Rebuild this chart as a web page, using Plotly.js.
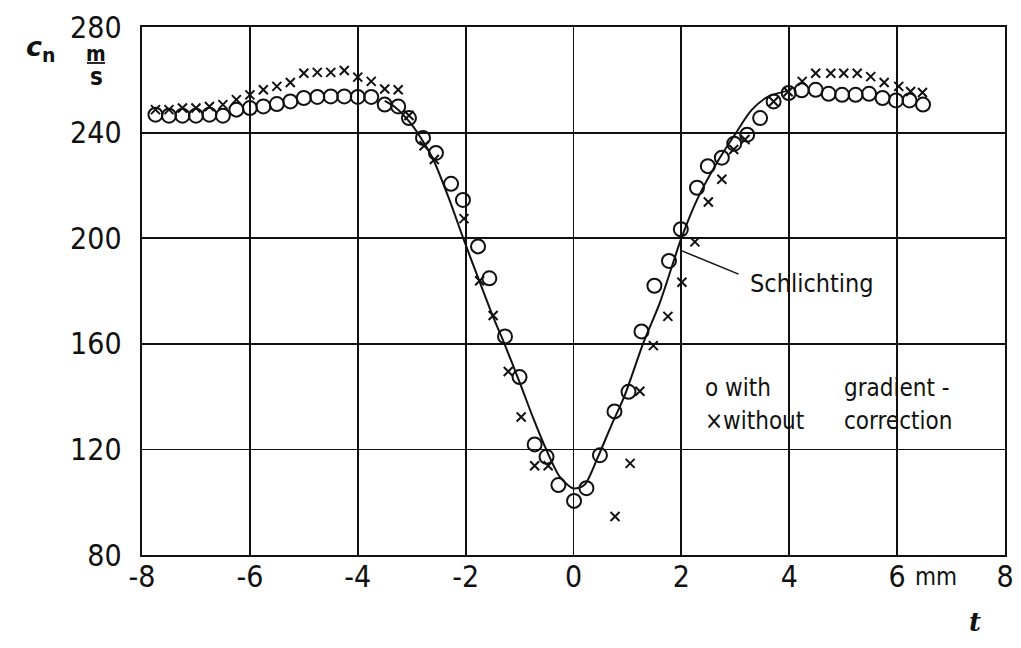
<!DOCTYPE html>
<html>
<head>
<meta charset="utf-8">
<script src="https://cdn.plot.ly/plotly-3.0.1.min.js"></script>
<style>html,body{margin:0;padding:0;background:#fff;}</style>
</head>
<body>
<div id="chart" style="width:1021px;height:648px;"></div>
<script>
// ---- data ----
const withX = [-7.75,-7.5,-7.25,-7.0,-6.75,-6.5,-6.25,-6.0,-5.75,-5.5,-5.25,-5.0,-4.75,-4.5,-4.25,-4.0,-3.75,-3.5,-3.25,-3.05,-2.79,-2.55,-2.27,-2.05,-1.77,-1.56,-1.27,-1.0,-0.72,-0.5,-0.28,0.01,0.24,0.49,0.76,1.02,1.26,1.5,1.77,1.99,2.29,2.49,2.75,2.98,3.22,3.46,3.71,3.99,4.23,4.49,4.73,4.98,5.23,5.48,5.73,5.98,6.23,6.48];
const withY = [246.8,246.4,246.4,246.4,246.8,246.4,248.7,249.3,249.9,250.8,251.8,253.1,253.5,253.7,253.7,253.5,253.5,250.6,249.9,245.5,238.0,232.3,220.6,214.5,196.9,184.8,162.8,147.4,121.9,117.2,106.5,100.5,105.3,117.8,134.4,141.8,164.7,182.0,191.4,203.4,219.1,227.3,230.5,235.8,239.2,245.5,251.8,255.0,256.0,256.2,254.7,254.3,254.3,254.7,253.1,252.2,252.2,250.6];

const withoutX = [-7.75,-7.5,-7.25,-7.0,-6.75,-6.5,-6.25,-6.0,-5.75,-5.5,-5.25,-5.0,-4.75,-4.5,-4.25,-4.0,-3.75,-3.5,-3.25,-3.05,-2.77,-2.58,-2.03,-1.74,-1.49,-1.21,-0.97,-0.72,-0.47,0.77,1.05,1.23,1.48,1.75,2.01,2.25,2.5,2.75,2.97,3.18,3.71,3.98,4.24,4.49,4.77,5.01,5.26,5.51,5.76,6.03,6.25,6.47];
const withoutY = [248.7,248.7,249.3,249.3,249.9,250.6,252.5,254.3,256.2,257.5,259.0,262.5,262.8,262.8,263.5,261.0,259.4,256.5,256.2,246.5,235.0,229.8,207.4,183.9,170.7,149.5,132.3,113.8,113.8,94.6,114.7,142.0,159.3,170.4,183.3,198.6,213.7,222.3,233.6,237.4,251.8,255.5,259.4,262.5,262.5,262.5,262.5,261.2,259.0,257.5,255.6,255.2];

const schlX = [-3.5,-3.3,-3.0,-2.8,-2.6,-2.3,-2.05,-1.75,-1.5,-1.28,-1.0,-0.75,-0.5,-0.25,0,0.2,0.45,0.7,0.95,1.3,1.6,2.0,2.3,2.7,3.0,3.3,3.6,4.0];
const schlY = [252,249.5,243,237,229.8,214.5,200.3,184,170.7,160,145.5,132,119.7,109.5,105.2,106.5,117,129,140.5,160.6,175.5,200,215,230,239.5,248.5,253.5,256];

const xTickVals = [-8,-6,-4,-2,0,2,4,6,8];
const xTickText = ['-8','-6','-4','-2','0','2','4','6','8'];
const yTickVals = [80,120,160,200,240,280];
const yTickText = ['80','120','160','200','240','280'];

const curveLabel = 'Schlichting';
const legendWith = 'o with';
const legendWithout = '×without';
const legendGradient = 'gradient -';
const legendCorrection = 'correction';
const yLabel = '<b><i>c</i><sub>n</sub></b>';
const yUnitTop = '<b>m</b>';
const yUnitBottom = '<b>s</b>';
const xLabel = '<b><i>t</i></b>';
const xUnit = 'mm';

// ---- layout geometry ----
const W = 1021, H = 648;
const L = 142, R = 1005, T = 27, B = 555;
const px = v => (v - L) / (R - L);
const py = v => (B - v) / (B - T);
const FONT = 'Liberation Sans Narrow, DejaVu Sans Condensed, sans-serif';
const INK = '#111';

const traces = [
  {x: schlX, y: schlY, mode: 'lines', line: {color: INK, width: 2, shape: 'spline', smoothing: 0.8}, hoverinfo: 'skip'},
  {x: withX, y: withY, mode: 'markers', marker: {symbol: 'circle-open', size: 14, color: INK, line: {width: 2, color: INK}}},
  {x: withoutX, y: withoutY, mode: 'markers', marker: {symbol: 'x-thin-open', size: 9, color: INK, line: {width: 2, color: INK}}}
];

const axisCommon = {
  showgrid: true, gridcolor: INK, gridwidth: 1.8,
  showline: true, mirror: true, linecolor: INK, linewidth: 2.4,
  zeroline: false, ticks: '',
  tickfont: {family: FONT, size: 30, color: INK}
};

const layout = {
  width: W, height: H,
  margin: {l: L, r: W - R, t: T, b: H - B, pad: 0},
  paper_bgcolor: '#fff', plot_bgcolor: '#fff',
  showlegend: false,
  xaxis: Object.assign({}, axisCommon, {range: [-8, 8], tickvals: xTickVals, ticktext: xTickText, ticklabelstandoff: -6}),
  yaxis: Object.assign({}, axisCommon, {range: [80, 280], tickvals: yTickVals, ticktext: yTickText, ticklabelstandoff: 12}),
  shapes: [
    {type: 'line', xref: 'x', yref: 'y', x0: 2.01, y0: 195.2, x1: 3.06, y1: 186.4, line: {color: INK, width: 1.5}},
    {type: 'line', xref: 'paper', yref: 'paper', x0: px(87), x1: px(105), y0: py(63), y1: py(63), line: {color: INK, width: 1.8}}
  ],
  annotations: [
    {xref: 'paper', yref: 'paper', x: px(748), y: py(283), xanchor: 'left', yanchor: 'middle', text: curveLabel, showarrow: false, font: {family: FONT, size: 25, color: INK}},
    {xref: 'paper', yref: 'paper', x: px(703), y: py(388), xanchor: 'left', yanchor: 'middle', text: legendWith, showarrow: false, font: {family: FONT, size: 24, color: INK}},
    {xref: 'paper', yref: 'paper', x: px(703), y: py(421), xanchor: 'left', yanchor: 'middle', text: legendWithout, showarrow: false, font: {family: FONT, size: 24, color: INK}},
    {xref: 'paper', yref: 'paper', x: px(842), y: py(388), xanchor: 'left', yanchor: 'middle', text: legendGradient, showarrow: false, font: {family: FONT, size: 24, color: INK}},
    {xref: 'paper', yref: 'paper', x: px(842), y: py(421), xanchor: 'left', yanchor: 'middle', text: legendCorrection, showarrow: false, font: {family: FONT, size: 24, color: INK}},
    {xref: 'paper', yref: 'paper', x: px(40), y: py(48), xanchor: 'center', yanchor: 'middle', text: yLabel, showarrow: false, font: {family: 'DejaVu Sans, sans-serif', size: 27, color: INK}},
    {xref: 'paper', yref: 'paper', x: px(96), y: py(54), xanchor: 'center', yanchor: 'middle', text: yUnitTop, showarrow: false, font: {family: FONT, size: 21, color: INK}},
    {xref: 'paper', yref: 'paper', x: px(96), y: py(77), xanchor: 'center', yanchor: 'middle', text: yUnitBottom, showarrow: false, font: {family: FONT, size: 24, color: INK}},
    {xref: 'paper', yref: 'paper', x: px(936), y: py(577), xanchor: 'center', yanchor: 'middle', text: xUnit, showarrow: false, font: {family: FONT, size: 24, color: INK}},
    {xref: 'paper', yref: 'paper', x: px(975), y: py(622), xanchor: 'center', yanchor: 'middle', text: xLabel, showarrow: false, font: {family: 'DejaVu Serif, serif', size: 26, color: INK}}
  ]
};

Plotly.newPlot('chart', traces, layout, {staticPlot: true, displayModeBar: false});
</script>
</body>
</html>
